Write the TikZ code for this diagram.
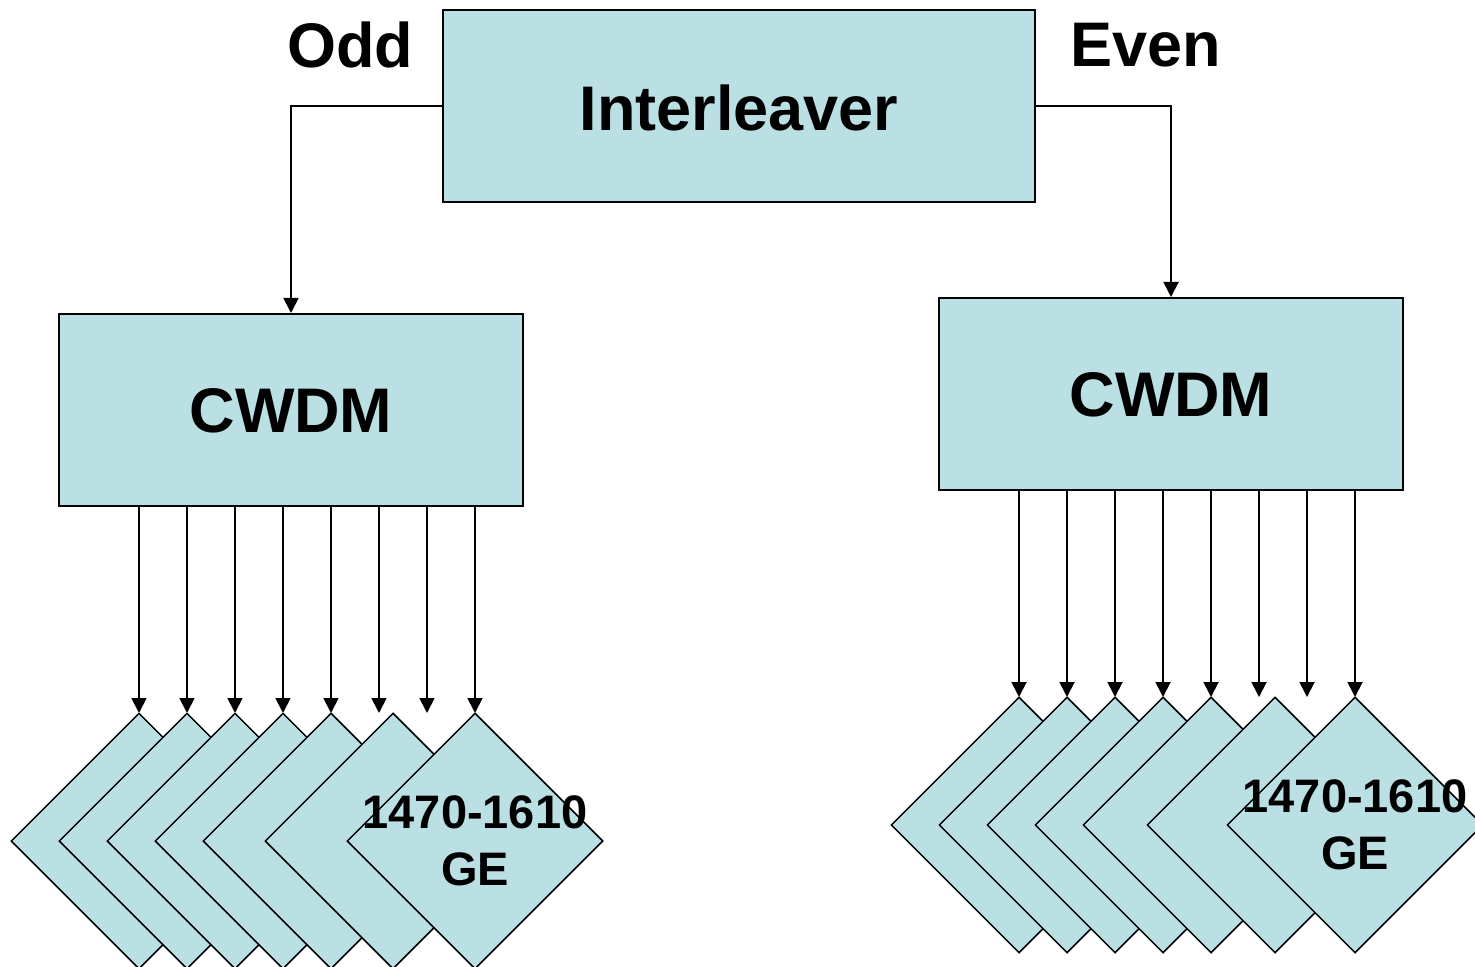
\documentclass[tikz,border=0pt]{standalone}
\usepackage{fontspec}
\setmainfont{Liberation Sans}
\usetikzlibrary{shapes.geometric,arrows.meta}
\definecolor{boxfill}{RGB}{186,224,227}

\tikzset{
  block/.style={draw, line width=1pt, fill=boxfill, inner sep=0pt},
  chip/.style={diamond, draw, line width=0.75pt, fill=boxfill,
    minimum width=128pt, minimum height=128pt, inner sep=0pt},
  port/.style={-{Triangle[width=7.5pt,length=7.5pt]}, line width=0.9pt},
  bigtext/.style={font=\fontsize{31.5}{38}\selectfont\bfseries},
  chiptext/.style={align=center, inner sep=0pt, font=\fontsize{23.5}{28.5}\selectfont\bfseries}
}

\begin{document}
\begin{tikzpicture}[x=0.5pt,y=-0.5pt]

\useasboundingbox (0,0) rectangle (1475,967);
\clip (0,0) rectangle (1475,967);

% top block
\node[block, minimum width=296pt, minimum height=96pt] (inter) at (739,106) {};
\node[bigtext] (interT) at (739,108) {Interleaver};
\node[bigtext] (odd) at (350,45) {Odd};
\node[bigtext] (even) at (1146,45) {Even};

% demux blocks
\node[block, minimum width=232pt, minimum height=96pt] (cwdmL) at (291,410) {};
\node[bigtext] (cwdmLT) at (291,411) {CWDM};
\node[block, minimum width=232pt, minimum height=96pt] (cwdmR) at (1171,394) {};
\node[bigtext] (cwdmRT) at (1171,395) {CWDM};

% odd / even outputs
\draw[port] (inter.west) -| (cwdmL.north);
\draw[port] (inter.east) -| (cwdmR.north);

% transceivers, back to front
\foreach \x [count=\i] in {139,187,235,283,331,393,475}
  \node[chip] (dL\i) at (\x,841) {};
\foreach \x [count=\i] in {1019,1067,1115,1163,1211,1275,1355}
  \node[chip] (dR\i) at (\x,825) {};
\node[chiptext] (tL) at (dL7) {1470-1610\\GE};
\node[chiptext] (tR) at (dR7) {1470-1610\\GE};

% channel arrows
\foreach \i in {1,...,8} {
  \coordinate (pL\i) at ({139+48*(\i-1)},713);
  \coordinate (pR\i) at ({1019+48*(\i-1)},697);
  \draw[port] (pL\i |- cwdmL.south) -- (pL\i);
  \draw[port] (pR\i |- cwdmR.south) -- (pR\i);
}

\end{tikzpicture}
\end{document}
